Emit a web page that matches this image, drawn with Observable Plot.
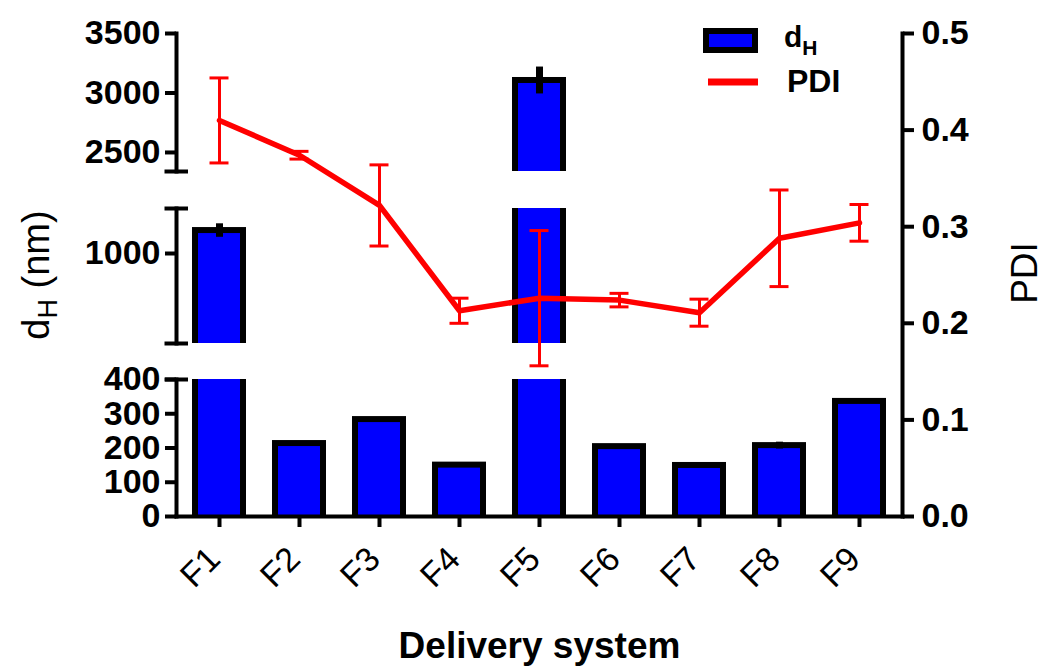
<!DOCTYPE html>
<html><head><meta charset="utf-8">
<script src="https://cdn.jsdelivr.net/npm/d3@7"></script>
<script src="https://cdn.jsdelivr.net/npm/@observablehq/plot@0.6"></script>
<style>
body{margin:0;background:#fff;}
#chart{position:relative;width:1054px;height:670px;font-family:"Liberation Sans",Arial,sans-serif;overflow:hidden;}
#chart svg{position:absolute;left:0;top:0;}
</style></head>
<body>
<div id="chart"></div>
<script>
// ---- data ----
const categories = ["F1","F2","F3","F4","F5","F6","F7","F8","F9"];
const dH    = [1102, 213, 283, 150, 3105, 204, 149, 207, 336];
const dHErr = [30, 2, 3, 2, 113, 2, 2, 10, 3];
const pdi    = [0.410, 0.374, 0.322, 0.213, 0.226, 0.224, 0.211, 0.288, 0.304];
const pdiErr = [0.044, 0.004, 0.042, 0.013, 0.070, 0.007, 0.014, 0.050, 0.019];
const bottomTicks = [0, 100, 200, 300, 400];
const middleTicks = [1000];
const topTicks = [2500, 3000, 3500];
const pdiTicks = [0, 0.1, 0.2, 0.3, 0.4, 0.5];
const segBottom = [0, 400];
const segMiddle = [600, 1200];
const segTop = [2340, 3500];

// ---- layout ----
const W = 1054, H = 670, ML = 176, MR = 152;
const frameW = W - ML - MR;
const BLUE = "#0000ff", RED = "#ff0000";
const FONT = '"Liberation Sans", Arial, sans-serif';
const AX = 4;
const chart = document.getElementById("chart");
const baseStyle = {position:"absolute", left:"0px", top:"0px", background:"transparent", overflow:"visible",
  fontFamily: FONT, fontSize:"34px", color:"#000"};
const xOpts = {domain: categories, paddingInner: 0.33, paddingOuter: 0.165};

const barRows = categories.map((c, i) => ({c, v: dH[i], e: dHErr[i]}));
const pdiRows = categories.map((c, i) => ({c, p: pdi[i], e: pdiErr[i]}));

function segmentPlot([lo, hi], ticks, top, bottom, caps, isBottom) {
  const rows = barRows.filter(d => d.v > lo).map(d => ({
    c: d.c, v: d.v, e: d.e, y1: lo, y2: Math.min(d.v, hi), cut: d.v > hi
  }));
  const whole = rows.filter(d => !d.cut), cut = rows.filter(d => d.cut);
  const marks = [
    Plot.barY(whole, {x: "c", y1: "y1", y2: "y2", fill: "#000", insetTop: -3}),
    Plot.barY(cut, {x: "c", y1: "y1", y2: "y2", fill: "#000"}),
    Plot.barY(whole, {x: "c", y1: "y1", y2: "y2", fill: BLUE, insetLeft: 6, insetRight: 6, insetTop: 3}),
    Plot.barY(cut, {x: "c", y1: "y1", y2: "y2", fill: BLUE, insetLeft: 6, insetRight: 6}),
    Plot.ruleX(whole, {x: "c", y1: d => d.v - d.e, y2: d => d.v + d.e, stroke: "#000", strokeWidth: 7}),
    Plot.ruleY(caps, {stroke: "#000", strokeWidth: AX, insetLeft: -11.5, insetRight: frameW - 12}),
    Plot.frame({anchor: "left", stroke: "#000", strokeWidth: AX}),
    Plot.axisY(ticks, {anchor: "left", tickSize: 11, tickPadding: 5, tickFormat: d => String(d),
      stroke: "#000", strokeWidth: AX, fill: "#000", fontSize: 34, fontWeight: "bold", label: null})
  ];
  if (isBottom) {
    marks.push(
      Plot.frame({anchor: "bottom", stroke: "#000", strokeWidth: AX}),
      Plot.axisX({anchor: "bottom", tickSize: 11, text: null, stroke: "#000", strokeWidth: AX, label: null}),
      Plot.axisX({anchor: "bottom", tickSize: 0, tickPadding: 37, tickRotate: -45, dx: -5,
        fill: "#000", fontSize: 34, fontWeight: "normal", label: null})
    );
  }
  return Plot.plot({
    width: W, height: H, marginTop: top, marginBottom: H - bottom, marginLeft: ML, marginRight: MR,
    style: baseStyle,
    x: {...xOpts, axis: null},
    y: {domain: [lo, hi], axis: null},
    marks
  });
}

chart.appendChild(segmentPlot(segTop, topTicks, 33, 171, [segTop[0]], false));
chart.appendChild(segmentPlot(segMiddle, middleTicks, 208, 343, segMiddle, false));
chart.appendChild(segmentPlot(segBottom, bottomTicks, 379, 516, [segBottom[1]], true));

const pdiPlot = Plot.plot({
  width: W, height: H, marginTop: 33, marginBottom: H - 516, marginLeft: ML, marginRight: MR,
  style: baseStyle,
  x: {...xOpts, axis: null},
  y: {domain: [0, 0.5], axis: null},
  marks: [
    Plot.frame({anchor: "right", stroke: "#000", strokeWidth: AX}),
    Plot.axisY(pdiTicks, {anchor: "right", tickSize: 11, tickPadding: 8, tickFormat: ".1f",
      stroke: "#000", strokeWidth: AX, fill: "#000", fontSize: 34, fontWeight: "bold", label: null}),
    Plot.ruleX(pdiRows, {x: "c", y1: d => d.p - d.e, y2: d => d.p + d.e, stroke: RED, strokeWidth: 3}),
    Plot.tickY(pdiRows, {x: "c", y: d => d.p - d.e, stroke: RED, strokeWidth: 3, insetLeft: 17.5, insetRight: 17.5}),
    Plot.tickY(pdiRows, {x: "c", y: d => d.p + d.e, stroke: RED, strokeWidth: 3, insetLeft: 17.5, insetRight: 17.5}),
    Plot.line(pdiRows, {x: "c", y: "p", stroke: RED, strokeWidth: 5.5, strokeLinejoin: "round"}),
    Plot.text(["PDI"], {text: d => d, frameAnchor: "right", textAnchor: "middle", lineAnchor: "middle",
      dx: 123, dy: -2, rotate: -90, fontSize: 37, fontWeight: "normal", fill: "#000"}),
    Plot.text(["dH (nm)"], {text: d => d, frameAnchor: "left", textAnchor: "middle", lineAnchor: "middle",
      dx: -140, dy: 0, rotate: -90, fontSize: 38, fontWeight: "normal", fill: "#000"}),
    Plot.text(["Delivery system"], {text: d => d, frameAnchor: "bottom", textAnchor: "middle", lineAnchor: "middle",
      dy: 130, fontSize: 37, fontWeight: "bold", fill: "#000"})
  ]
});
chart.appendChild(pdiPlot);

// subscript H in the y title
d3.select(pdiPlot).selectAll("text").filter(function() { return this.textContent === "dH (nm)"; })
  .each(function() {
    const t = d3.select(this);
    t.text(null);
    t.append("tspan").text("d");
    t.append("tspan").attr("font-size", 27).attr("dy", 8).text("H");
    t.append("tspan").attr("dy", -8).text(" (nm)");
  });

// legend
const leg = d3.select(chart).append("svg")
  .attr("width", W).attr("height", H)
  .style("position", "absolute").style("left", "0px").style("top", "0px")
  .style("font-family", FONT).style("font-weight", "bold");
leg.append("rect").attr("x", 706).attr("y", 31).attr("width", 49).attr("height", 19)
  .attr("fill", BLUE).attr("stroke", "#000").attr("stroke-width", 6);
const t1 = leg.append("text").attr("x", 784).attr("y", 47).attr("font-size", 30);
t1.append("tspan").text("d");
t1.append("tspan").attr("font-size", 21).attr("dy", 8).text("H");
leg.append("line").attr("x1", 708).attr("x2", 758).attr("y1", 82).attr("y2", 82)
  .attr("stroke", RED).attr("stroke-width", 7);
leg.append("text").attr("x", 787).attr("y", 92).attr("font-size", 32).text("PDI");
</script>
</body></html>
